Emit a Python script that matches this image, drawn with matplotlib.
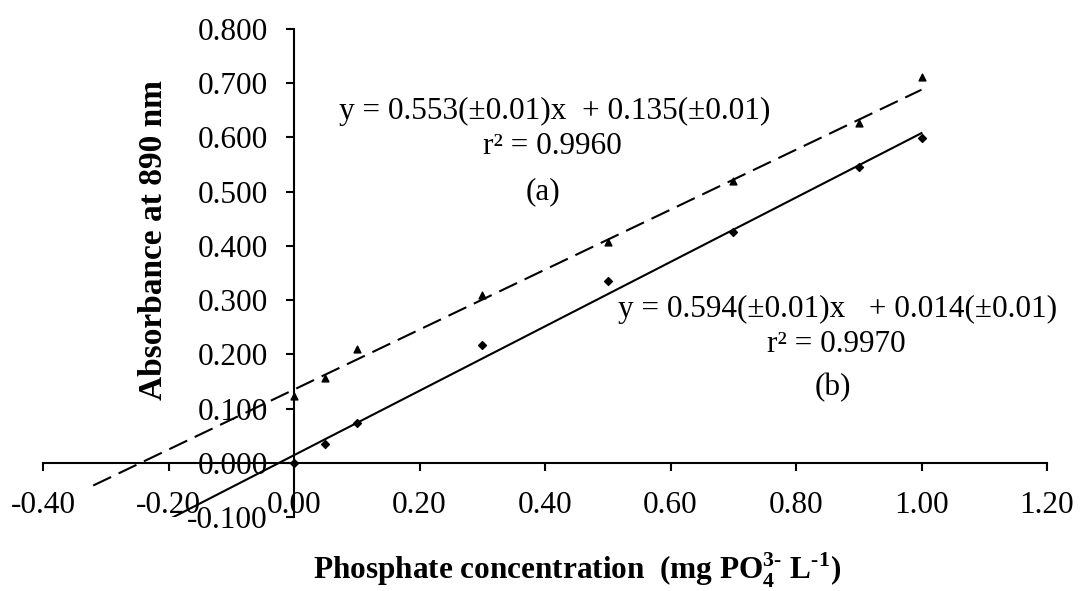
import matplotlib.pyplot as plt
import numpy as np

plt.rcParams['font.family'] = ['Liberation Serif', 'DejaVu Serif']
plt.rcParams['mathtext.fontset'] = 'custom'
plt.rcParams['mathtext.rm'] = 'Liberation Serif'
plt.rcParams['mathtext.bf'] = 'Liberation Serif:bold'

# concentrations (mg PO4 3- / L)
conc = [0.0, 0.05, 0.10, 0.30, 0.50, 0.70, 0.90, 1.00]
# absorbance at 890 nm
abs_a = [0.123, 0.157, 0.210, 0.310, 0.408, 0.520, 0.626, 0.712]
abs_b = [0.000, 0.035, 0.073, 0.217, 0.335, 0.425, 0.545, 0.599]

# fitted lines: slope, intercept, x start
fit_a = (0.553, 0.135, -0.32)
fit_b = (0.594, 0.014, -0.20)

xticks = [-0.40, -0.20, 0.00, 0.20, 0.40, 0.60, 0.80, 1.00, 1.20]
yticks = [-0.1, 0.0, 0.1, 0.2, 0.3, 0.4, 0.5, 0.6, 0.7, 0.8]

fs = 22.5

fig = plt.figure(figsize=(10.8, 5.91), dpi=100)
ax = fig.add_axes([43/1080, 74/591, 1004/1080, 488/591])

ax.scatter(conc, abs_a, marker='^', s=24, color='black', zorder=3)
ax.scatter(conc, abs_b, marker='D', s=16, color='black', zorder=3)

m, b, x0 = fit_a
xx = np.array([x0, 1.0])
ax.plot(xx, m * xx + b, color='black', lw=1.5, dashes=(9.5, 4))
m, b, x0 = fit_b
xx = np.array([x0, 1.0])
ax.plot(xx, m * xx + b, color='black', lw=1.5)

ax.set_xlim(-0.4, 1.2)
ax.set_ylim(-0.1, 0.8)
ax.spines['left'].set_position(('data', 0))
ax.spines['bottom'].set_position(('data', 0))
ax.spines['right'].set_visible(False)
ax.spines['top'].set_visible(False)
for s in ('left', 'bottom'):
    ax.spines[s].set_linewidth(1.5)

ax.set_xticks(xticks)
ax.set_xticklabels(['%.2f' % v for v in xticks])
ax.set_yticks(yticks)
ax.set_yticklabels(['%.3f' % v for v in yticks])
ax.tick_params(axis='both', direction='out', length=6, width=1.5, labelsize=fs)
ax.tick_params(axis='x', pad=14)
ax.tick_params(axis='y', pad=13)

ax.text(0.416, 0.648, 'y = 0.553(±0.01)x  + 0.135(±0.01)', fontsize=fs, ha='center', va='center')
ax.text(0.411, 0.583, 'r² = 0.9960', fontsize=fs, ha='center', va='center')
ax.text(0.397, 0.500, '(a)', fontsize=fs, ha='center', va='center')
ax.text(0.867, 0.282, 'y = 0.594(±0.01)x   + 0.014(±0.01)', fontsize=fs, ha='center', va='center')
ax.text(0.865, 0.218, 'r² = 0.9970', fontsize=fs, ha='center', va='center')
ax.text(0.859, 0.138, '(b)', fontsize=fs, ha='center', va='center')

fig.text(153/1080, 1 - 240/591, 'Absorbance at 890 nm', rotation=90, fontsize=24,
         fontweight='bold', ha='center', va='center')
fig.text(577/1080, 1 - 570/591,
         r'Phosphate concentration  (mg PO$_\mathbf{4}^\mathbf{3\text{-}}$ L$^\mathbf{\text{-}1}$)',
         fontsize=fs, fontweight='bold', ha='center', va='center')

fig.savefig('out.png', dpi=100)
